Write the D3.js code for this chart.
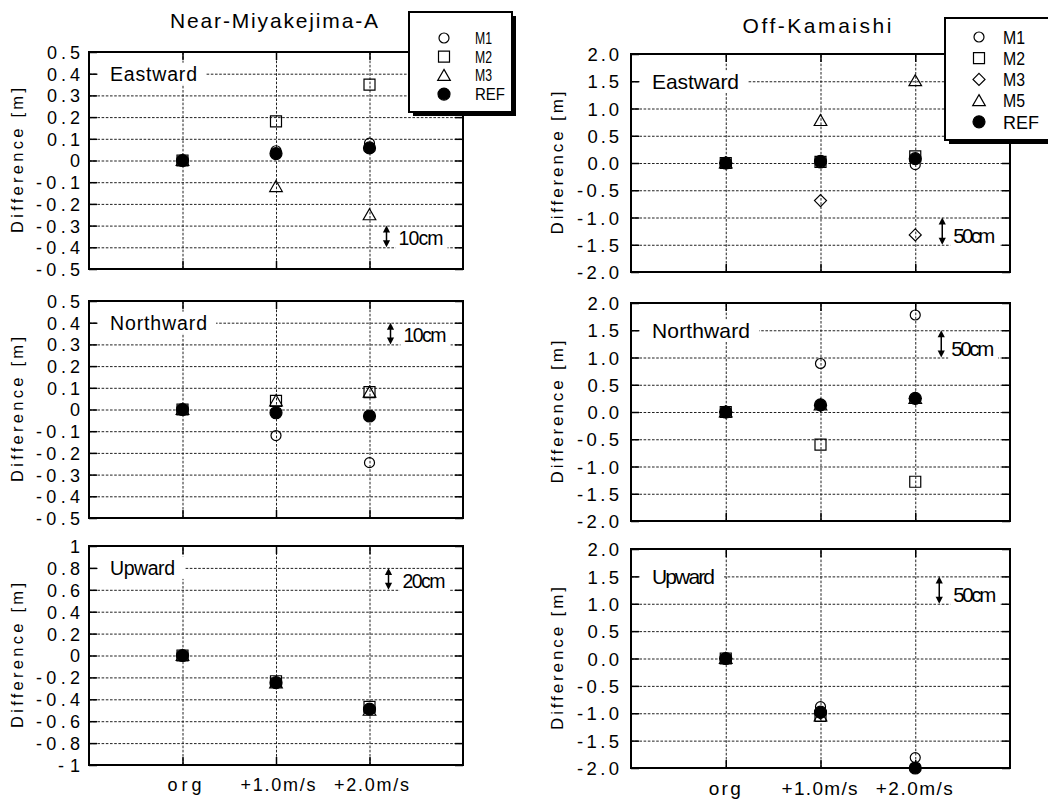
<!DOCTYPE html>
<html>
<head>
<meta charset="utf-8">
<script src="https://cdn.jsdelivr.net/npm/d3@7"></script>
<style>
  body { margin: 0; background: #fff; }
  svg { display: block; }
  text { font-family: 'Liberation Sans', Arial, sans-serif; fill: #000; }
</style>
</head>
<body>
<svg id="chart" width="1048" height="805"></svg>
<script>
// ---------------- data ----------------
const categories = ["org", "+1.0m/s", "+2.0m/s"];
const stationTitles = ["Near-Miyakejima-A", "Off-Kamaishi"];
const components = ["Eastward", "Northward", "Upward"];

// Near-Miyakejima-A
const nmSeriesNames = ["M1", "M2", "M3", "REF"];
const nmEastM1  = [0, 0.045, 0.08];
const nmEastM2  = [0, 0.18, 0.35];
const nmEastM3  = [0, -0.12, -0.25];
const nmEastREF = [0, 0.032, 0.058];
const nmNorthM1  = [0, -0.12, -0.245];
const nmNorthM2  = [0, 0.04, 0.08];
const nmNorthM3  = [0, 0.04, 0.08];
const nmNorthREF = [0, -0.015, -0.03];
const nmUpM1  = [0, -0.25, -0.49];
const nmUpM2  = [0, -0.235, -0.47];
const nmUpM3  = [0, -0.25, -0.5];
const nmUpREF = [0, -0.248, -0.49];

// Off-Kamaishi
const okSeriesNames = ["M1", "M2", "M3", "M5", "REF"];
const okEastM1  = [0, 0.0, -0.03];
const okEastM2  = [0, 0.02, 0.12];
const okEastM3  = [0, -0.69, -1.32];
const okEastM5  = [0, 0.78, 1.51];
const okEastREF = [0, 0.03, 0.08];
const okNorthM1  = [0, 0.89, 1.78];
const okNorthM2  = [0, -0.6, -1.28];
const okNorthM3  = [0, 0.12, 0.25];
const okNorthM5  = [0, 0.13, 0.25];
const okNorthREF = [0, 0.13, 0.25];
const okUpM1  = [0, -0.88, -1.81];
const okUpM2  = [0, -1.05, null];   // below the plotted range
const okUpM3  = [0, -1.0, null];
const okUpM5  = [0, -1.05, null];
const okUpREF = [0, -0.98, -2.0];

// axis ticks
const nmHorizTicks = [0.5, 0.4, 0.3, 0.2, 0.1, 0, -0.1, -0.2, -0.3, -0.4, -0.5];
const nmHorizTickLabels = ["0.5", "0.4", "0.3", "0.2", "0.1", "0", "-0.1", "-0.2", "-0.3", "-0.4", "-0.5"];
const nmUpTicks = [1, 0.8, 0.6, 0.4, 0.2, 0, -0.2, -0.4, -0.6, -0.8, -1];
const nmUpTickLabels = ["1", "0.8", "0.6", "0.4", "0.2", "0", "-0.2", "-0.4", "-0.6", "-0.8", "-1"];
const okTicks = [2, 1.5, 1, 0.5, 0, -0.5, -1, -1.5, -2];
const okTickLabels = ["2.0", "1.5", "1.0", "0.5", "0.0", "-0.5", "-1.0", "-1.5", "-2.0"];

// component label levels and scale bars (data units)
const nmLabelLevels = [0.4, 0.4, 0.8];
const okLabelLevels = [1.5, 1.5, 1.5];
const nmBarTop    = [-0.3, 0.4, 0.8];
const nmBarBottom = [-0.4, 0.3, 0.6];
const nmBarLabels = ["10cm", "10cm", "20cm"];
const okBarTop    = [-1.0, 1.5, 1.5];
const okBarBottom = [-1.5, 1.0, 1.0];
const okBarLabels = ["50cm", "50cm", "50cm"];

// ---------------- styling / layout ----------------
const nmSymbols = { M1: "circle", M2: "square", M3: "triangle", REF: "dot" };
const okSymbols = { M1: "circle", M2: "square", M3: "diamond", M5: "triangle", REF: "dot" };

const stations = [
  {
    title: stationTitles[0], names: nmSeriesNames, symbols: nmSymbols,
    comps: [
      { label: components[0], series: [nmEastM1, nmEastM2, nmEastM3, nmEastREF], domain: [-0.5, 0.5], ticks: nmHorizTicks, tickLabels: nmHorizTickLabels, level: nmLabelLevels[0], bar: [nmBarTop[0], nmBarBottom[0], nmBarLabels[0]] },
      { label: components[1], series: [nmNorthM1, nmNorthM2, nmNorthM3, nmNorthREF], domain: [-0.5, 0.5], ticks: nmHorizTicks, tickLabels: nmHorizTickLabels, level: nmLabelLevels[1], bar: [nmBarTop[1], nmBarBottom[1], nmBarLabels[1]] },
      { label: components[2], series: [nmUpM1, nmUpM2, nmUpM3, nmUpREF], domain: [-1, 1], ticks: nmUpTicks, tickLabels: nmUpTickLabels, level: nmLabelLevels[2], bar: [nmBarTop[2], nmBarBottom[2], nmBarLabels[2]] }
    ]
  },
  {
    title: stationTitles[1], names: okSeriesNames, symbols: okSymbols,
    comps: [
      { label: components[0], series: [okEastM1, okEastM2, okEastM3, okEastM5, okEastREF], domain: [-2, 2], ticks: okTicks, tickLabels: okTickLabels, level: okLabelLevels[0], bar: [okBarTop[0], okBarBottom[0], okBarLabels[0]] },
      { label: components[1], series: [okNorthM1, okNorthM2, okNorthM3, okNorthM5, okNorthREF], domain: [-2, 2], ticks: okTicks, tickLabels: okTickLabels, level: okLabelLevels[1], bar: [okBarTop[1], okBarBottom[1], okBarLabels[1]] },
      { label: components[2], series: [okUpM1, okUpM2, okUpM3, okUpM5, okUpREF], domain: [-2, 2], ticks: okTicks, tickLabels: okTickLabels, level: okLabelLevels[2], bar: [okBarTop[2], okBarBottom[2], okBarLabels[2]] }
    ]
  }
];

const layout = [
  { x0: 89, x1: 463, rows: [[52, 269], [301, 518], [546, 765]],
    tickPad: 9, tickFont: 18, tickAdv: 11,
    labelX: 110, labelFont: 19.5, labelLens: [87, 97, 65],
    barDx: [17, 21, 19], barTextDx: [29, 34, 33], cmFont: 19.5, cmLens: [45, 43, 43],
    yLabelX: 23, yLabelFont: 16.5, yLabelLen: 145,
    xLabelBase: 791, xLabelDx: 2, xLabelFont: 18, xLabelLens: [34, 75, 75],
    titleX: 274, titleY: 28, titleLen: 208, titleFont: 21,
    legend: { x: 409, y: 12, w: 103, h: 100, symX: 444, textX: 475, row0: 38, step: 18.7, font: 16.5, lens: { 2: 17, 3: 30 } } },
  { x0: 631, x1: 1010, rows: [[54, 272], [303, 521], [549, 768]],
    tickPad: 12, tickFont: 18.5, tickAdv: 10.5,
    labelX: 652, labelFont: 21, labelLens: [87, 98, 63],
    barDx: [27, 26, 24], barTextDx: [38, 36, 38], cmFont: 20.5, cmLens: [42, 43, 43],
    yLabelX: 563, yLabelFont: 17, yLabelLen: 143,
    xLabelBase: 795, xLabelDx: -1, xLabelFont: 19, xLabelLens: [32, 76, 77],
    titleX: 817, titleY: 33, titleLen: 149, titleFont: 21,
    legend: { x: 945, y: 18, w: 130, h: 122, symX: 979, textX: 1003, row0: 37, step: 21.2, font: 19, lens: { 2: 22, 3: 36 } } }
];

const svg = d3.select("#chart");

// text helper: textLength spreads glyphs like the fixed-pitch plot font
function addText(parent, str, x, y, size, len, anchor, adjust) {
  const t = parent.append("text").text(str).attr("font-size", size).attr("y", y);
  if (len && str.length > 1) {
    let sx = x;
    if (anchor === "middle") sx = x - len / 2;
    else if (anchor === "end") sx = x - len;
    t.attr("x", sx).attr("text-anchor", "start")
     .attr("textLength", len).attr("lengthAdjust", adjust || "spacing");
  } else {
    t.attr("x", x).attr("text-anchor", anchor || "start");
  }
  return t;
}

// point symbols
function symbolPath(type) {
  switch (type) {
    case "circle":   return "M5,0A5,5 0 1,1 -5,0A5,5 0 1,1 5,0Z";
    case "square":   return "M-5.5,-5.5H5.5V5.5H-5.5Z";
    case "triangle": return "M0,-6L6.3,5L-6.3,5Z";
    case "diamond":  return "M0,-6L6,0L0,6L-6,0Z";
    case "dot":      return "M6,0A6,6 0 1,1 -6,0A6,6 0 1,1 6,0Z";
  }
}
function drawSymbol(parent, type, cx, cy) {
  parent.append("path")
    .attr("d", symbolPath(type))
    .attr("transform", `translate(${cx},${cy})`)
    .attr("fill", type === "dot" ? "#000" : "none")
    .attr("stroke", "#000")
    .attr("stroke-width", 1.2);
}

stations.forEach((st, si) => {
  const L = layout[si];
  const gS = svg.append("g");

  // station title
  addText(gS, st.title, L.titleX, L.titleY, L.titleFont, L.titleLen, "middle");

  st.comps.forEach((cp, ri) => {
    const [yt, yb] = L.rows[ri];
    const g = gS.append("g");
    const x = d3.scalePoint().domain(categories).range([L.x0, L.x1]).padding(1);
    const y = d3.scaleLinear().domain(cp.domain).range([yb, yt]);
    const W = L.x1 - L.x0, H = yb - yt;

    // dotted grid
    const inner = cp.ticks.filter(v => v !== cp.domain[0] && v !== cp.domain[1]);
    const gridY = g.append("g").attr("transform", `translate(${L.x0},0)`)
      .call(d3.axisLeft(y).tickValues(inner).tickSize(-W).tickFormat(""));
    const gridX = g.append("g").attr("transform", `translate(0,${yb})`)
      .call(d3.axisBottom(x).tickSize(-H).tickFormat(""));
    [gridY, gridX].forEach(a => {
      a.select(".domain").remove();
      a.selectAll("line").attr("stroke", "#222").attr("stroke-width", 1)
        .attr("stroke-dasharray", "2.6,1.6");
    });

    // component label on a white box
    const ly = y(cp.level);
    const lLen = L.labelLens[ri];
    g.append("rect").attr("x", L.labelX - 12).attr("y", ly - 11)
      .attr("width", lLen + 21).attr("height", 22).attr("fill", "#fff");
    addText(g, cp.label, L.labelX, ly + 0.36 * L.labelFont, L.labelFont, lLen, "start");

    // scale bar with double arrow
    const bx = x(categories[2]) + L.barDx[ri];
    const tx = x(categories[2]) + L.barTextDx[ri];
    const byT = y(cp.bar[0]), byB = y(cp.bar[1]);
    const cLen = L.cmLens[ri];
    g.append("rect").attr("x", tx - 3).attr("y", byB - 17)
      .attr("width", cLen + 7).attr("height", 19).attr("fill", "#fff");
    addText(g, cp.bar[2], tx, byB - 2, L.cmFont, cLen, "start");
    g.append("line").attr("x1", bx).attr("x2", bx).attr("y1", byT + 4).attr("y2", byB - 4)
      .attr("stroke", "#000").attr("stroke-width", 1.5);
    g.append("path").attr("d", `M${bx},${byT}L${bx + 3.6},${byT + 7}L${bx - 3.6},${byT + 7}Z`).attr("fill", "#000");
    g.append("path").attr("d", `M${bx},${byB}L${bx + 3.6},${byB - 7}L${bx - 3.6},${byB - 7}Z`).attr("fill", "#000");

    // border
    g.append("rect").attr("x", L.x0).attr("y", yt).attr("width", W).attr("height", H)
      .attr("fill", "none").attr("stroke", "#000").attr("stroke-width", 2);

    // y ticks (inward, mirrored) with labels
    const axL = g.append("g").attr("transform", `translate(${L.x0},0)`)
      .call(d3.axisLeft(y).tickValues(cp.ticks).tickFormat((d, i) => cp.tickLabels[i])
        .tickSizeInner(-8).tickSizeOuter(0).tickPadding(L.tickPad));
    axL.select(".domain").remove();
    axL.attr("font-family", null).attr("font-size", null);
    axL.selectAll("line").attr("stroke", "#000").attr("stroke-width", 1.5);
    axL.selectAll("text").each(function (d, i) {
      const t = d3.select(this);
      const str = cp.tickLabels[i];
      t.attr("font-size", L.tickFont).attr("fill", "#000")
        .attr("dy", null).attr("y", 0.36 * L.tickFont);
      if (str.length > 1) {
        const len = L.tickAdv * str.length;
        t.attr("text-anchor", "start").attr("x", -L.tickPad - len)
          .attr("textLength", len).attr("lengthAdjust", "spacing");
      } else {
        t.attr("text-anchor", "end").attr("x", -L.tickPad);
      }
    });

    const axR = g.append("g").attr("transform", `translate(${L.x1},0)`)
      .call(d3.axisRight(y).tickValues(cp.ticks).tickFormat("").tickSizeInner(-8).tickSizeOuter(0));
    axR.select(".domain").remove();
    axR.selectAll("line").attr("stroke", "#000").attr("stroke-width", 1.5);

    const axT = g.append("g").attr("transform", `translate(0,${yt})`)
      .call(d3.axisTop(x).tickFormat("").tickSizeInner(-8).tickSizeOuter(0));
    const axB = g.append("g").attr("transform", `translate(0,${yb})`)
      .call(d3.axisBottom(x).tickFormat("").tickSizeInner(-8).tickSizeOuter(0));
    [axT, axB].forEach(a => {
      a.select(".domain").remove();
      a.selectAll("line").attr("stroke", "#000").attr("stroke-width", 1.5);
    });

    // x labels on the lowest panel only
    if (ri === st.comps.length - 1) {
      categories.forEach((c, ci) => {
        addText(g, c, x(c) + L.xLabelDx, L.xLabelBase, L.xLabelFont, L.xLabelLens[ci], "middle");
      });
    }

    // y axis title
    const yl = g.append("g").attr("transform", `translate(${L.yLabelX},${(yt + yb) / 2}) rotate(-90)`);
    addText(yl, "Difference [m]", 0, 0, L.yLabelFont, L.yLabelLen, "middle");

    // points, series in legend order (REF on top)
    st.names.forEach((name, ni) => {
      const vals = cp.series[ni];
      vals.forEach((v, ci) => {
        if (v === null) return;
        drawSymbol(g, st.symbols[name], x(categories[ci]), y(v));
      });
    });
  });

  // legend with drop shadow
  const lg = L.legend;
  const gl = gS.append("g");
  gl.append("rect").attr("x", lg.x + 4).attr("y", lg.y + 4).attr("width", lg.w).attr("height", lg.h).attr("fill", "#000");
  gl.append("rect").attr("x", lg.x).attr("y", lg.y).attr("width", lg.w).attr("height", lg.h)
    .attr("fill", "#fff").attr("stroke", "#000").attr("stroke-width", 2);
  st.names.forEach((name, ni) => {
    const ry = lg.row0 + ni * lg.step;
    drawSymbol(gl, st.symbols[name], lg.symX, ry);
    addText(gl, name, lg.textX, ry + 0.36 * lg.font, lg.font, lg.lens[name.length], "start", "spacingAndGlyphs");
  });
});
</script>
</body>
</html>
